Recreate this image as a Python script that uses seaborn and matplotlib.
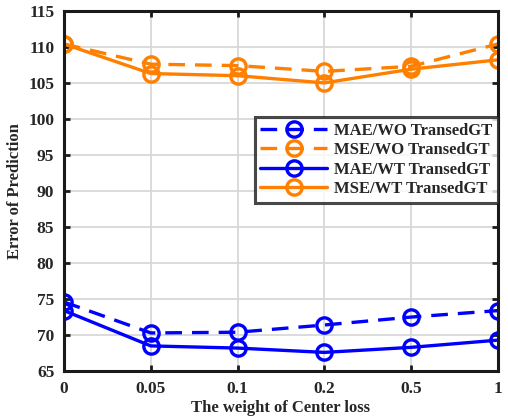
import seaborn as sns
import matplotlib.pyplot as plt
import pandas as pd

sns.set_theme(style='whitegrid')
plt.rcParams['font.family'] = ['Liberation Serif', 'DejaVu Serif']
plt.rcParams['font.weight'] = 'bold'

weights = ['0', '0.05', '0.1', '0.2', '0.5', '1']
mae_wo = [74.6, 70.3, 70.4, 71.4, 72.5, 73.4]
mse_wo = [110.4, 107.6, 107.4, 106.6, 107.3, 110.4]
mae_wt = [73.4, 68.5, 68.2, 67.6, 68.3, 69.3]
mse_wt = [110.4, 106.3, 106.0, 105.0, 106.9, 108.2]

blue = '#0000ff'
orange = '#ff8000'

fig = plt.figure(figsize=(5.08, 4.17), dpi=100)
ax = fig.add_axes([0.126, 0.110, 0.854, 0.864])

series = [
    ('MAE/WO TransedGT', mae_wo, blue, (0, (5, 3))),
    ('MSE/WO TransedGT', mse_wo, orange, (0, (5, 3))),
    ('MAE/WT TransedGT', mae_wt, blue, '-'),
    ('MSE/WT TransedGT', mse_wt, orange, '-'),
]
for name, vals, col, ls in series:
    df = pd.DataFrame({'w': weights, 'v': vals})
    sns.lineplot(data=df, x='w', y='v', ax=ax, color=col, linestyle=ls,
                 linewidth=2.4, marker='o', markersize=11,
                 markerfacecolor='none', markeredgecolor=col,
                 markeredgewidth=2.4, label=name, sort=False)

ax.set_ylim(65, 115)
ax.set_xlim(0, 5)
ax.set_yticks(range(65, 116, 5))
ax.set_xlabel('The weight of Center loss', fontsize=12, fontweight='bold',
              labelpad=2)
ax.set_ylabel('Error of Prediction', fontsize=12, fontweight='bold',
              labelpad=4)
ax.grid(True, color='#d8d8d8', linewidth=1.3)
ax.set_facecolor('white')
for sp in ax.spines.values():
    sp.set_color('#1a1a1a')
    sp.set_linewidth(2.2)
ax.tick_params(axis='both', direction='in', length=4, width=2,
               color='#1a1a1a', labelsize=12.5, top=True, right=True,
               bottom=True, left=True, pad=7)
for lab in ax.get_xticklabels() + ax.get_yticklabels():
    lab.set_fontweight('bold')

leg = ax.legend(loc='upper right', bbox_to_anchor=(1.0, 0.705),
                fontsize=12, frameon=True, fancybox=False,
                handlelength=4.0, borderpad=0.35, labelspacing=0.2,
                handletextpad=0.4, borderaxespad=0)
leg.get_frame().set_edgecolor('#1a1a1a')
leg.get_frame().set_linewidth(2.2)
for t in leg.get_texts():
    t.set_fontweight('bold')

plt.savefig('out.png', dpi=100)
